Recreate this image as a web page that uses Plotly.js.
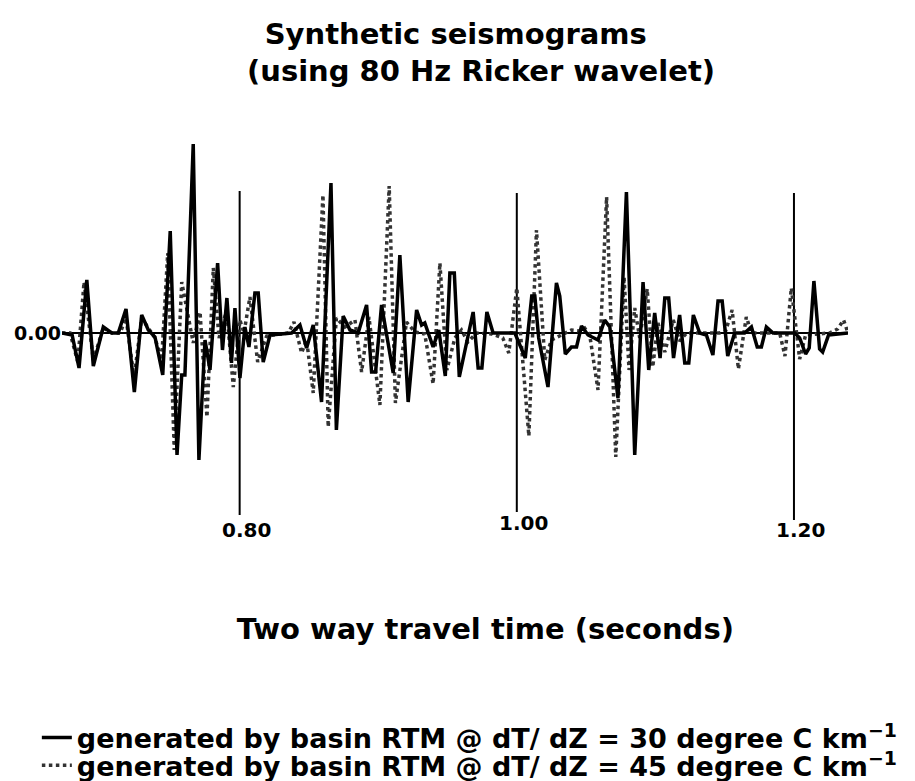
<!DOCTYPE html>
<html>
<head>
<meta charset="utf-8">
<script src="https://cdn.plot.ly/plotly-3.0.1.min.js"></script>
<style>html,body{margin:0;padding:0;background:#fff;}#chart{width:915px;height:781px;}</style>
</head>
<body>
<div id="chart"></div>
<script>
// Two way travel time (s) and amplitude for the 30 degree C/km seismogram (solid)
const time30 = [0.6718,0.6791,0.6841,0.6897,0.6944,0.7016,0.7077,0.7124,0.7180,0.7240,0.7293,0.7341,0.7389,0.7445,0.7499,0.7548,0.7582,0.7605,0.7665,0.7706,0.7750,0.7786,0.7841,0.7876,0.7908,0.7941,0.7966,0.8002,0.8038,0.8067,0.8110,0.8134,0.8170,0.8219,0.8375,0.8435,0.8483,0.8531,0.8591,0.8659,0.8698,0.8747,0.8796,0.8855,0.8916,0.8952,0.8981,0.9024,0.9108,0.9156,0.9216,0.9277,0.9313,0.9336,0.9396,0.9437,0.9484,0.9517,0.9549,0.9585,0.9685,0.9721,0.9748,0.9784,0.9829,0.9986,1.0061,1.0108,1.0130,1.0158,1.0225,1.0286,1.0310,1.0350,1.0394,1.0431,1.0467,1.0514,1.0586,1.0634,1.0671,1.0730,1.0791,1.0851,1.0911,1.0952,1.0995,1.1034,1.1068,1.1096,1.1131,1.1175,1.1212,1.1241,1.1274,1.1320,1.1368,1.1415,1.1452,1.1482,1.1522,1.1572,1.1644,1.1693,1.1735,1.1765,1.1801,1.1849,1.2005,1.2041,1.2084,1.2110,1.2144,1.2185,1.2207,1.2250,1.2390];
const amp30 = [0,-0.02,-0.35,0.53,-0.33,0.06,0,0,0.24,-0.59,0.18,0.03,-0.04,-0.42,1.02,-1.22,-0.42,-0.42,1.89,-1.27,-0.07,-0.37,0.70,-0.17,0.35,-0.30,0.25,-0.45,0.06,-0.14,0.40,0.40,-0.29,-0.02,0,0.08,-0.15,0.08,-0.69,1.50,-0.97,0.17,0.03,0,0.28,-0.39,-0.39,0.28,-0.40,0.78,-0.69,0.23,0.08,0.10,-0.14,0.03,-0.43,0.60,0.60,-0.44,0.21,-0.35,-0.35,0.21,0,0,-0.25,0.37,0.37,-0.05,-0.54,0.50,0.37,-0.21,-0.14,-0.14,0.07,-0.02,-0.07,0.13,0.06,-0.65,1.41,-1.22,0.51,-0.37,0.20,-0.25,0.35,0.35,-0.25,0.18,-0.30,-0.30,0.18,0,-0.02,-0.22,0.32,0.32,-0.23,0,0,0.06,-0.14,-0.14,0.06,0,0,-0.05,-0.21,-0.15,0.52,-0.16,-0.19,-0.02,0];

// 45 degree C/km seismogram (dotted)
const time45 = [0.6718,0.6776,0.6832,0.6877,0.6944,0.7016,0.7077,0.7137,0.7180,0.7238,0.7293,0.7353,0.7389,0.7437,0.7481,0.7528,0.7582,0.7665,0.7714,0.7764,0.7810,0.7851,0.7906,0.7954,0.8002,0.8031,0.8074,0.8130,0.8195,0.8351,0.8392,0.8447,0.8483,0.8531,0.8601,0.8639,0.8698,0.8760,0.8832,0.8880,0.8933,0.9012,0.9079,0.9124,0.9204,0.9264,0.9336,0.9396,0.9445,0.9495,0.9553,0.9601,0.9647,0.9709,0.9820,0.9899,0.9942,1.0000,1.0087,1.0142,1.0202,1.0250,1.0310,1.0394,1.0454,1.0490,1.0526,1.0586,1.0648,1.0714,1.0774,1.0810,1.0851,1.0887,1.0941,1.0981,1.1019,1.1068,1.1129,1.1175,1.1226,1.1464,1.1507,1.1554,1.1599,1.1656,1.1695,1.1897,1.1935,1.1981,1.2041,1.2084,1.2257,1.2315,1.2358,1.2390];
const amp45 = [0,0,-0.29,0.51,-0.27,0.05,0,0,0.15,-0.45,0.15,0.02,-0.05,-0.27,0.80,-1.17,0.51,-0.10,0.21,-0.84,0.65,-0.05,0.23,-0.54,0.13,0.0,0.36,-0.29,-0.03,0,0.11,-0.20,-0.07,-0.60,1.38,-0.94,0.15,0.06,0.13,-0.39,0.16,-0.72,1.47,-0.70,0.11,0.01,-0.01,-0.51,0.70,-0.37,-0.05,0.03,-0.09,0,-0.01,-0.05,-0.20,0.45,-1.03,1.03,-0.27,-0.07,-0.03,0.03,0.02,0.05,-0.02,-0.57,1.36,-1.24,0.56,-0.37,0.25,-0.05,0.44,-0.34,0.10,-0.19,0.13,-0.08,0,0,0.02,0.23,-0.36,0.16,0,0,-0.23,0.45,-0.26,-0.02,0,0.04,0.13,0];

const tickValues = [0.80, 1.00, 1.20];
const tickLabels = ['0.80', '1.00', '1.20'];
const seriesNames = [
  'generated by basin RTM @ dT/ dZ = 30 degree C km<sup>−1</sup>',
  'generated by basin RTM @ dT/ dZ = 45 degree C km<sup>−1</sup>'
];

// styling (not data)
const FONT = 'DejaVu Sans';
const tickLineTop = [1.42, 1.40, 1.40];
const tickLineBottom = [-1.82, -1.79, -1.87];
const tickLabelShift = [3, 10, 3];

const traces = [
  {x: time45, y: amp45, type: 'scatter', mode: 'lines', name: seriesNames[1],
   line: {color: '#333333', width: 3.5, dash: 'dot'}, legend: 'legend2', hoverinfo: 'skip'},
  {x: time30, y: amp30, type: 'scatter', mode: 'lines', name: seriesNames[0],
   line: {color: '#000000', width: 3.5}, legend: 'legend', hoverinfo: 'skip'}
];

const shapes = tickValues.map((v, i) => ({
  type: 'line', xref: 'x', yref: 'y', x0: v, x1: v, y0: tickLineBottom[i], y1: tickLineTop[i],
  line: {color: '#000', width: 2}, layer: 'below'
}));

const annotations = tickValues.map((v, i) => ({
  x: v, y: -2.0, xref: 'x', yref: 'y', text: tickLabels[i], showarrow: false,
  xshift: 7, yshift: tickLabelShift[i],
  font: {family: FONT, size: 20, weight: 'bold', color: '#000'}
}));

const nb = '&nbsp;';
const layout = {
  width: 915, height: 781,
  paper_bgcolor: '#fff', plot_bgcolor: '#fff',
  margin: {l: 62, r: 67, t: 123, b: 238, autoexpand: false},
  font: {family: FONT, weight: 'bold', color: '#000'},
  title: {
    text: 'Synthetic seismograms' + nb.repeat(5) + '<br>(using 80 Hz Ricker wavelet)',
    x: 481 / 915, xref: 'container', xanchor: 'center',
    y: 0.944, yref: 'container', yanchor: 'top',
    font: {family: FONT, size: 29, weight: 'bold', color: '#000'}
  },
  xaxis: {
    range: [0.6718, 1.2390], showgrid: false, zeroline: false, showline: false,
    showticklabels: false, ticks: '',
    title: {text: nb.repeat(6) + 'Two way travel time (seconds)', standoff: 75,
            font: {family: FONT, size: 29, weight: 'bold', color: '#000'}},
    automargin: false, fixedrange: true
  },
  yaxis: {
    range: [-2.1, 2.1], showgrid: false, showline: false,
    zeroline: true, zerolinecolor: '#000', zerolinewidth: 2,
    tickvals: [0], ticktext: ['0.00'], ticks: '',
    tickfont: {family: FONT, size: 19, weight: 'bold', color: '#000'},
    automargin: false, fixedrange: true
  },
  showlegend: true,
  legend: {x: -0.032, xanchor: 'left', y: 0.055, yref: 'container', yanchor: 'middle',
           font: {family: FONT, size: 27, weight: 'bold', color: '#000'},
           bgcolor: 'rgba(0,0,0,0)'},
  legend2: {x: -0.032, xanchor: 'left', y: 0.0195, yref: 'container', yanchor: 'middle',
            font: {family: FONT, size: 27, weight: 'bold', color: '#000'},
            bgcolor: 'rgba(0,0,0,0)'},
  shapes: shapes,
  annotations: annotations
};

Plotly.newPlot('chart', traces, layout, {displayModeBar: false, staticPlot: true});
</script>
</body>
</html>
